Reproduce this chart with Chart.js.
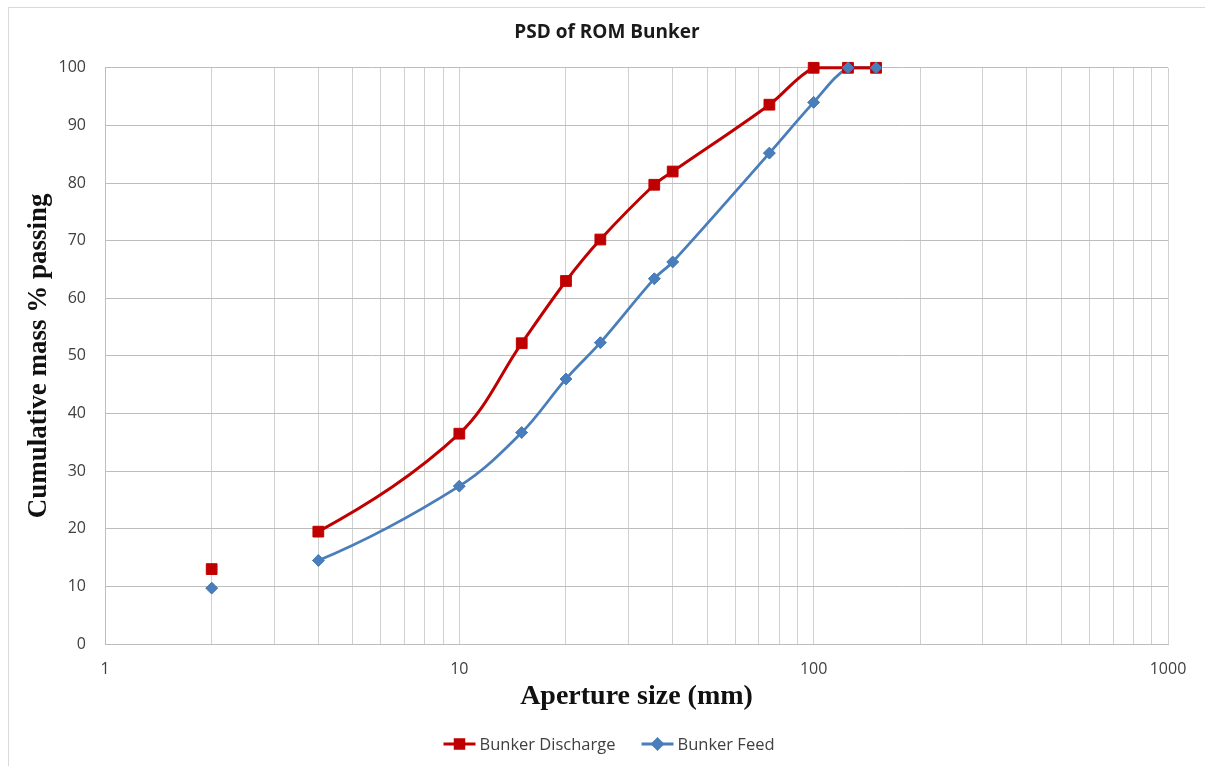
<!DOCTYPE html>
<html>
<head>
<meta charset="utf-8">
<title>PSD of ROM Bunker</title>
<script src="https://cdn.jsdelivr.net/npm/chart.js@4.4.1/dist/chart.umd.min.js"></script>
<style>
  html, body { margin: 0; padding: 0; background: #fff; overflow: hidden; }
  #wrap { position: relative; width: 1205px; height: 766px; }
  #frame { position: absolute; left: 8px; top: 7px; width: 1260px; height: 820px; border: 1px solid #d9d9d9; box-sizing: border-box; }
  #psdChart { position: absolute; left: 0; top: 0; }
</style>
</head>
<body>
<div id="wrap">
  <div id="frame"></div>
  <canvas id="psdChart" width="1205" height="766"></canvas>
</div>
<script>
// sieve apertures (mm) and cumulative % passing
const sizesMm = [2, 4, 10, 15, 20, 25, 35.5, 40, 75, 100, 125, 150];
const dischargePassing = [13.0, 19.5, 36.5, 52.2, 63.0, 70.2, 79.7, 82.0, 93.6, 100, 100, 100];
const feedPassing = [9.7, 14.5, 27.4, 36.7, 46.0, 52.3, 63.4, 66.3, 85.2, 94.0, 100, 100];

// log grid lines and the labels shown on them
const xGridValues = [1, 2, 3, 4, 5, 6, 7, 8, 9, 10, 20, 30, 40, 50, 60, 70, 80, 90,
  100, 200, 300, 400, 500, 600, 700, 800, 900, 1000];
const xLabelValues = [1, 10, 100, 1000];

// first sieve point is plotted on its own, not joined to the curve
const looseIndex = 0;

const RED = "#c00000";
const BLUE = "#4a7ebb";

const toPoints = (vals) => sizesMm.map((x, i) => ({ x: x, y: vals[i] }));
const hideLoose = (color) => (ctx) => (ctx.p0DataIndex === looseIndex ? "rgba(0,0,0,0)" : color);

// legend drawn as line + marker like the spreadsheet one
const lineLegend = {
  id: "lineLegend",
  afterDraw(chart) {
    const ctx = chart.ctx;
    ctx.save();
    ctx.font = '16.5px "Open Sans"';
    ctx.textBaseline = "middle";
    const lineW = 32, gap = 4, spacing = 26, y = 744;
    const items = chart.data.datasets.map((ds) => ({ ds, w: ctx.measureText(ds.label).width }));
    const total = items.reduce((s, it) => s + lineW + gap + it.w, 0) + spacing * (items.length - 1);
    let x = 609 - total / 2;
    items.forEach(({ ds, w }) => {
      ctx.strokeStyle = ds.borderColor;
      ctx.lineWidth = ds.borderWidth;
      ctx.beginPath();
      ctx.moveTo(x, y);
      ctx.lineTo(x + lineW, y);
      ctx.stroke();
      ctx.fillStyle = ds.pointBackgroundColor;
      ctx.strokeStyle = ds.pointBorderColor;
      Chart.helpers.drawPoint(ctx, {
        pointStyle: ds.pointStyle, radius: ds.legendRadius, borderWidth: 1, rotation: 0,
      }, x + lineW / 2, y);
      ctx.fillStyle = "#404040";
      ctx.fillText(ds.label, x + lineW + gap, y + 1);
      x += lineW + gap + w + spacing;
    });
    ctx.restore();
  },
};

// feed markers sit above the discharge markers at 125/150 mm
const feedMarkersOnTop = {
  id: "feedMarkersOnTop",
  afterDatasetsDraw(chart) {
    const meta = chart.getDatasetMeta(1);
    chart.ctx.save();
    meta.data.forEach((pt) => pt.draw(chart.ctx));
    chart.ctx.restore();
  },
};

new Chart(document.getElementById("psdChart"), {
  type: "line",
  data: {
    datasets: [
      {
        label: "Bunker Discharge",
        data: toPoints(dischargePassing),
        borderColor: RED,
        backgroundColor: RED,
        borderWidth: 3,
        pointStyle: "rect",
        pointRadius: 7.6,
        pointBackgroundColor: RED,
        pointBorderColor: RED,
        pointBorderWidth: 1,
        legendRadius: 6,
        tension: 0.35,
        clip: false,
        segment: { borderColor: hideLoose(RED) },
      },
      {
        label: "Bunker Feed",
        data: toPoints(feedPassing),
        borderColor: BLUE,
        backgroundColor: BLUE,
        borderWidth: 2.8,
        pointStyle: "rectRot",
        pointRadius: 5.8,
        pointBackgroundColor: BLUE,
        pointBorderColor: BLUE,
        pointBorderWidth: 1,
        legendRadius: 5,
        tension: 0.35,
        clip: false,
        segment: { borderColor: hideLoose(BLUE) },
      },
    ],
  },
  options: {
    responsive: false,
    animation: false,
    devicePixelRatio: 1,
    layout: { padding: { left: 9, right: 0, top: 0, bottom: 40 } },
    plugins: {
      legend: { display: false },
      tooltip: { enabled: false },
      title: {
        display: true,
        text: "PSD of ROM Bunker",
        color: "#1a1a1a",
        font: { family: '"Open Sans"', size: 19, weight: "bold" },
        padding: { top: 21, bottom: 24 },
      },
    },
    scales: {
      x: {
        type: "logarithmic",
        min: 1,
        max: 1000,
        afterBuildTicks: (scale) => {
          scale.ticks = xGridValues.map((v) => ({ value: v }));
        },
        afterFit: (scale) => {
          scale.height = 82;
          scale.paddingLeft = 0;
          scale.paddingRight = 37;
        },
        grid: { color: "#d0d0d0", lineWidth: 1, drawTicks: false },
        border: { color: "#bdbdbd" },
        ticks: {
          autoSkip: false,
          maxRotation: 0,
          minRotation: 0,
          padding: 16,
          color: "#404040",
          font: { family: '"Open Sans"', size: 16 },
          callback: (v) => (xLabelValues.includes(v) ? String(v) : ""),
        },
        title: {
          display: true,
          text: "Aperture size (mm)",
          color: "#111",
          font: { family: '"Liberation Serif"', size: 28, weight: "bold" },
          padding: { top: 0, bottom: 12 },
        },
      },
      y: {
        min: 0,
        max: 100,
        afterFit: (scale) => {
          scale.width = 96;
          scale.paddingTop = 0;
          scale.paddingBottom = 0;
        },
        grid: { color: "#bdbdbd", lineWidth: 1, drawTicks: false },
        border: { color: "#bdbdbd" },
        ticks: {
          stepSize: 10,
          padding: 19,
          color: "#404040",
          font: { family: '"Open Sans"', size: 16 },
        },
        title: {
          display: true,
          text: "Cumulative mass % passing",
          color: "#111",
          font: { family: '"Liberation Serif"', size: 27, weight: "bold" },
          padding: { top: 14, bottom: 0 },
        },
      },
    },
  },
  plugins: [feedMarkersOnTop, lineLegend],
});
</script>
</body>
</html>
